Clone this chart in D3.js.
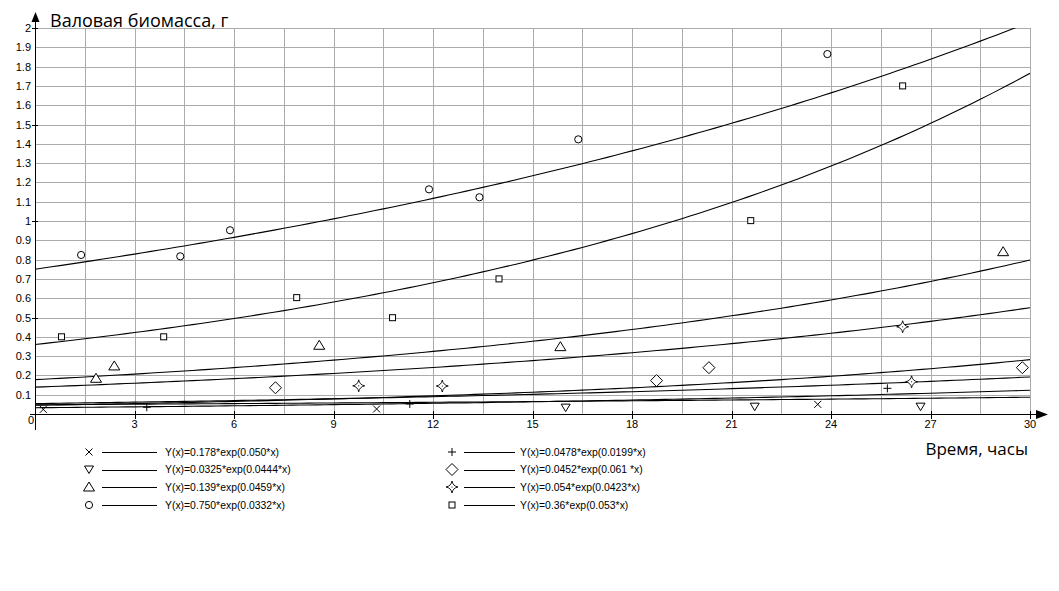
<!DOCTYPE html>
<html>
<head>
<meta charset="utf-8">
<script src="https://cdn.jsdelivr.net/npm/d3@7"></script>
<style>
  html, body { margin: 0; padding: 0; background: #fff; }
  svg { display: block; }
  text { font-family: "Liberation Sans", Arial, sans-serif; fill: #000; }
</style>
</head>
<body>
<svg id="chart" width="1059" height="591"></svg>
<script>
// ---- data ----
const xTicks = [0, 3, 6, 9, 12, 15, 18, 21, 24, 27, 30];
const yTicks = [0.1, 0.2, 0.3, 0.4, 0.5, 0.6, 0.7, 0.8, 0.9, 1, 1.1, 1.2, 1.3, 1.4, 1.5, 1.6, 1.7, 1.8, 1.9, 2];
const yAxisTitle = "Валовая биомасса, г";
const xAxisTitle = "Время, часы";

const seriesNames = ["cross", "downTri", "tri", "circle", "plus", "diamond", "star", "square"];
const fitA = [0.178, 0.0325, 0.139, 0.750, 0.0478, 0.0452, 0.054, 0.36];
const fitB = [0.050, 0.0444, 0.0459, 0.0332, 0.0199, 0.061, 0.0423, 0.053];
const legendLabels = [
  "Y(x)=0.178*exp(0.050*x)",
  "Y(x)=0.0325*exp(0.0444*x)",
  "Y(x)=0.139*exp(0.0459*x)",
  "Y(x)=0.750*exp(0.0332*x)",
  "Y(x)=0.0478*exp(0.0199*x)",
  "Y(x)=0.0452*exp(0.061 *x)",
  "Y(x)=0.054*exp(0.0423*x)",
  "Y(x)=0.36*exp(0.053*x)"
];

const crossX   = [0.25, 10.3, 23.6];
const crossY   = [0.024, 0.026, 0.050];
const downTriX = [16.0, 21.7, 26.7];
const downTriY = [0.033, 0.038, 0.038];
const triX     = [1.84, 2.39, 8.57, 15.84, 29.19];
const triY     = [0.185, 0.249, 0.356, 0.349, 0.841];
const circleX  = [1.39, 4.38, 5.88, 11.88, 13.4, 16.38, 23.89];
const circleY  = [0.824, 0.817, 0.952, 1.164, 1.123, 1.423, 1.865];
const plusX    = [3.37, 11.3, 25.7];
const plusY    = [0.035, 0.052, 0.133];
const diamondX = [7.25, 18.74, 20.32, 29.77];
const diamondY = [0.136, 0.173, 0.24, 0.24];
const starX    = [9.76, 12.28, 26.16, 26.43];
const starY    = [0.146, 0.145, 0.452, 0.167];
const squareX  = [0.8, 3.88, 7.89, 10.78, 13.99, 21.58, 26.16];
const squareY  = [0.40, 0.40, 0.603, 0.499, 0.70, 1.002, 1.70];

const pointsX = [crossX, downTriX, triX, circleX, plusX, diamondX, starX, squareX];
const pointsY = [crossY, downTriY, triY, circleY, plusY, diamondY, starY, squareY];

// ---- layout ----
const svg = d3.select("#chart");
const x = d3.scaleLinear().domain([0, 30]).range([35, 1030]);
const y = d3.scaleLinear().domain([0, 2]).range([414, 28]);

// grid
const gridX = d3.range(1, 21).map(i => i * 1.5);
const grid = svg.append("g").attr("stroke", "#ababab").attr("stroke-width", 1).attr("shape-rendering", "crispEdges");
grid.selectAll("line.v").data(gridX).join("line").attr("class", "v")
  .attr("x1", d => Math.round(x(d)) + 0.5).attr("x2", d => Math.round(x(d)) + 0.5)
  .attr("y1", y(2)).attr("y2", y(0));
grid.selectAll("line.h").data(yTicks).join("line").attr("class", "h")
  .attr("x1", x(0)).attr("x2", x(30))
  .attr("y1", d => Math.round(y(d)) + 0.5).attr("y2", d => Math.round(y(d)) + 0.5);

// clip
svg.append("clipPath").attr("id", "plotclip").append("rect")
  .attr("x", x(0)).attr("y", y(2)).attr("width", x(30) - x(0)).attr("height", y(0) - y(2));

// fitted curves
const curveGroup = svg.append("g").attr("clip-path", "url(#plotclip)");
const line = d3.line().x(d => x(d[0])).y(d => y(d[1]));
const xs = d3.range(0, 30.0001, 0.25);
fitA.forEach((a, i) => {
  const b = fitB[i];
  curveGroup.append("path")
    .attr("d", line(xs.map(v => [v, a * Math.exp(b * v)])))
    .attr("fill", "none").attr("stroke", "#000").attr("stroke-width", 1.1);
});

// axes
const ax = svg.append("g").attr("stroke", "#000").attr("fill", "none").attr("shape-rendering", "crispEdges");
ax.append("line").attr("x1", x(0) + 0.5).attr("x2", x(0) + 0.5).attr("y1", 20).attr("y2", 430);
ax.append("line").attr("x1", 30).attr("x2", 1040).attr("y1", y(0) + 0.5).attr("y2", y(0) + 0.5);
svg.append("path").attr("d", `M${x(0)+0.5},12 L${x(0)-3.5},22 L${x(0)+4.5},22 Z`).attr("fill", "#000");
svg.append("path").attr("d", `M1048,${y(0)+0.5} L1036,${y(0)-4} L1036,${y(0)+5} Z`).attr("fill", "#000");

// y tick marks every 0.5
ax.selectAll("line.yt").data(yTicks.filter(d => Math.abs(d * 2 - Math.round(d * 2)) < 1e-9)).join("line")
  .attr("class", "yt")
  .attr("x1", x(0) - 3).attr("x2", x(0) + 3)
  .attr("y1", d => Math.round(y(d)) + 0.5).attr("y2", d => Math.round(y(d)) + 0.5);
// x tick marks
ax.selectAll("line.xt").data(xTicks.slice(1)).join("line")
  .attr("class", "xt")
  .attr("x1", d => Math.round(x(d)) + 0.5).attr("x2", d => Math.round(x(d)) + 0.5)
  .attr("y1", y(0) - 3).attr("y2", y(0) + 5);

// y tick labels
svg.append("g").selectAll("text").data(yTicks).join("text")
  .attr("x", 31).attr("y", d => y(d) + 4)
  .attr("text-anchor", "end").attr("font-size", 11)
  .text(d => String(d));
// x tick labels
svg.append("g").selectAll("text").data(xTicks).join("text")
  .attr("x", d => d === 0 ? 31 : x(d))
  .attr("y", d => d === 0 ? 424 : 428)
  .attr("text-anchor", "middle").attr("font-size", 11)
  .text(d => String(d));

// titles
svg.append("text").attr("x", 50).attr("y", 27).attr("font-size", 18)
  .style("font-family", "'Open Sans', 'Noto Sans', sans-serif").text(yAxisTitle);
svg.append("text").attr("x", 1028).attr("y", 455).attr("font-size", 17).attr("text-anchor", "end")
  .style("font-family", "'Open Sans', 'Noto Sans', sans-serif").text(xAxisTitle);

// markers
function drawMarker(g, type, cx, cy) {
  const s = g.append("g").attr("transform", `translate(${cx},${cy})`)
    .attr("fill", "none").attr("stroke", "#000").attr("stroke-width", 1);
  switch (type) {
    case "cross":
      s.append("path").attr("d", "M-3.5,-3.5L3.5,3.5M-3.5,3.5L3.5,-3.5"); break;
    case "plus":
      s.append("path").attr("d", "M-4,0L4,0M0,-4L0,4"); break;
    case "circle":
      s.append("circle").attr("r", 3.6).attr("fill", "#fff"); break;
    case "square":
      s.append("rect").attr("x", -3).attr("y", -3).attr("width", 6).attr("height", 6).attr("fill", "#fff"); break;
    case "tri":
      s.append("path").attr("d", "M0,-5L5.5,4L-5.5,4Z").attr("fill", "#fff"); break;
    case "downTri":
      s.append("path").attr("d", "M-4.5,-3.5L4.5,-3.5L0,4Z").attr("fill", "#fff"); break;
    case "diamond":
      s.append("path").attr("d", "M0,-6L6,0L0,6L-6,0Z").attr("fill", "#fff"); break;
    case "star":
      s.append("path").attr("d", "M0,-6Q0.9,-0.9 6,0Q0.9,0.9 0,6Q-0.9,0.9 -6,0Q-0.9,-0.9 0,-6Z")
        .attr("fill", "#fff").attr("stroke-width", 0.9);
      s.append("circle").attr("r", 0.6).attr("fill", "#000").attr("stroke", "none"); break;
  }
}
const markers = svg.append("g");
seriesNames.forEach((name, i) => {
  pointsX[i].forEach((vx, j) => drawMarker(markers, name, x(vx), y(pointsY[i][j])));
});

// legend
const legendRowsY = [452, 469.5, 487, 505];
const legend = svg.append("g");
seriesNames.forEach((name, i) => {
  const col = i < 4 ? 0 : 1;
  const row = i % 4;
  const sx = col === 0 ? 89 : 452;
  const l1 = col === 0 ? 102 : 464;
  const l2 = col === 0 ? 157 : 515;
  const tx = col === 0 ? 165 : 520;
  const ly = legendRowsY[row];
  drawMarker(legend, name, sx, ly);
  legend.append("line").attr("x1", l1).attr("x2", l2).attr("y1", ly + 0.5).attr("y2", ly + 0.5)
    .attr("stroke", "#000").attr("shape-rendering", "crispEdges");
  legend.append("text").attr("x", tx).attr("y", ly + 3.5).attr("font-size", 10.4).text(legendLabels[i]);
});
</script>
</body>
</html>
